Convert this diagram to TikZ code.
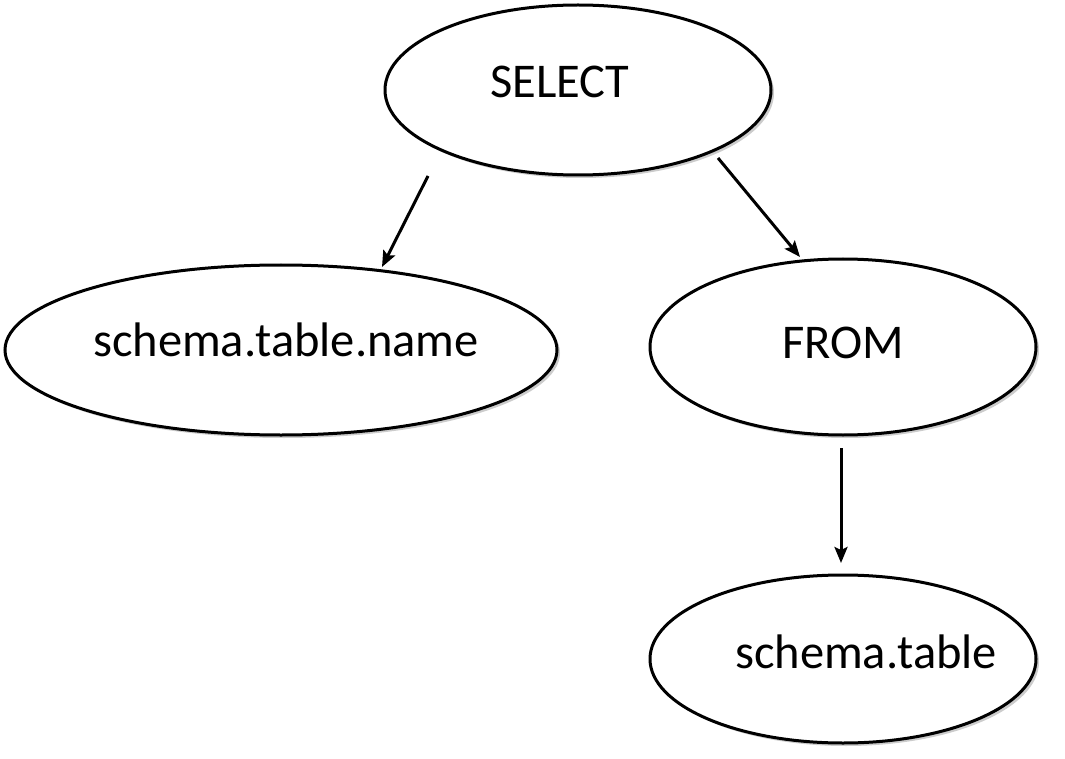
\documentclass[tikz,border=0pt]{standalone}
\usepackage{fontspec}
\setmainfont{Carlito}
\usetikzlibrary{shapes.geometric,arrows.meta,shadows}
\begin{document}
\begin{tikzpicture}[x=1pt,y=-1pt,
  oval/.style={ellipse,draw=black,line width=3pt,fill=white,inner sep=0pt,
    drop shadow={shadow xshift=3pt,shadow yshift=-3pt,fill=black!40,opacity=0.5}},
  lbl/.style={font=\fontsize{48.5}{58}\selectfont,inner sep=0pt,anchor=center},
  conn/.style={line width=3pt,-{Stealth[length=16pt,width=13pt,inset=3pt]}}]
\useasboundingbox (0,0) rectangle (1065,759);
\node[oval,minimum width=386pt,minimum height=170pt] (sel) at (578,90) {};
\node[oval,minimum width=552pt,minimum height=170pt] (scn) at (281,350) {};
\node[oval,minimum width=386pt,minimum height=176pt] (from) at (843,347) {};
\node[oval,minimum width=386pt,minimum height=168pt] (st) at (843,659) {};
\node[lbl] (tsel) at (560,82) {SELECT};
\node[lbl] (tscn) at (286,340) {schema.table.name};
\node[lbl] (tfrom) at (843,343) {FROM};
\node[lbl] (tst) at (866,652) {schema.table};
\coordinate (a1) at (428,176);
\coordinate (b1) at (382,267);
\coordinate (a2) at (718,158);
\coordinate (b2) at (800,257);
\coordinate (a3) at (841,448);
\coordinate (b3) at (841,563);
\draw[conn] (a1) -- (b1);
\draw[conn] (a2) -- (b2);
\draw[conn] (a3) -- (b3);
\end{tikzpicture}
\end{document}
